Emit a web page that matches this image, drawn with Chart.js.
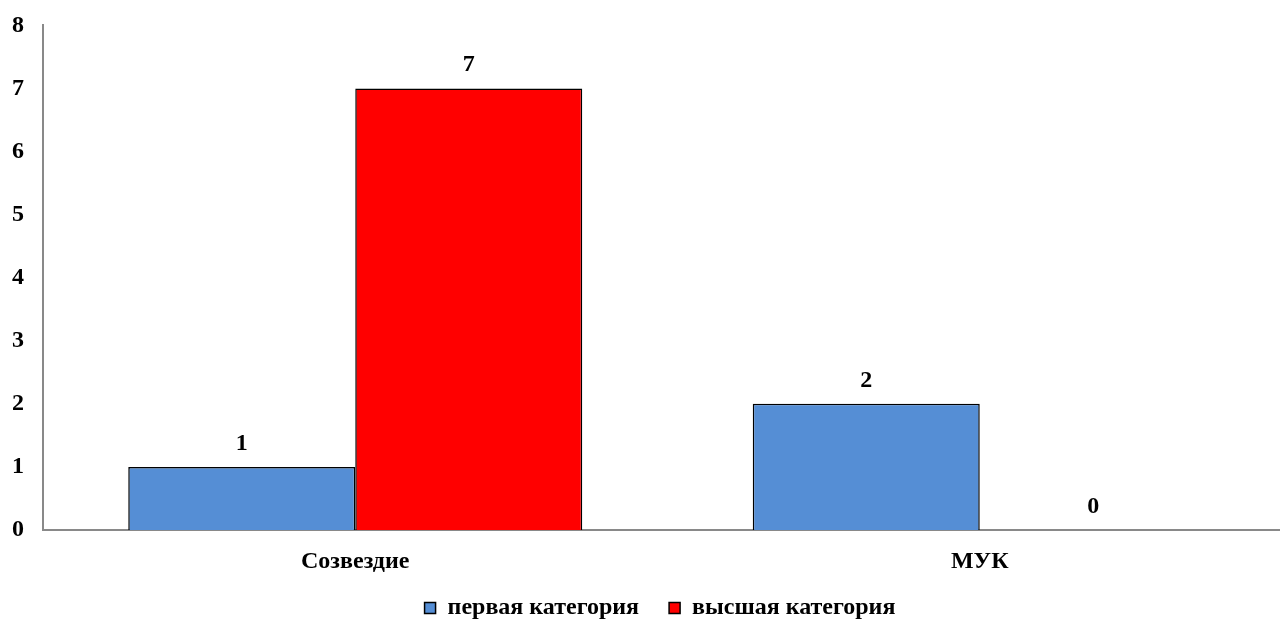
<!DOCTYPE html>
<html><head><meta charset="utf-8">
<script src="https://cdn.jsdelivr.net/npm/chart.js@4/dist/chart.umd.min.js"></script>
<style>html,body{margin:0;padding:0;background:#fff;overflow:hidden}#wrap{width:1292px;height:624px}</style>
</head><body><div id="wrap"><canvas id="c" width="1292" height="624"></canvas></div>
<script>
const categories = ["Созвездие", "МУК"];
const firstCategory = [1, 2];
const highestCategory = [7, 0];
const seriesNames = ["первая категория", "высшая категория"];
const yTicks = [0, 1, 2, 3, 4, 5, 6, 7, 8];

const FONT = "'Liberation Serif', 'Times New Roman', serif";

const valueLabels = {
  id: 'valueLabels',
  afterDatasetsDraw(chart) {
    const ctx = chart.ctx;
    ctx.save();
    ctx.font = "bold 24px " + FONT;
    ctx.fillStyle = '#000';
    ctx.textAlign = 'center';
    ctx.textBaseline = 'alphabetic';
    chart.data.datasets.forEach((ds, i) => {
      chart.getDatasetMeta(i).data.forEach((bar, j) => {
        ctx.fillText(String(ds.data[j]), bar.x, bar.y - 17);
      });
    });
    ctx.restore();
  }
};

const legendFix = {
  id: 'legendFix',
  beforeLayout(chart) {
    const lg = chart.legend;
    if (lg && !lg._fitPatched) {
      const orig = lg.fit;
      lg.fit = function () { orig.call(this); this.height = 44; };
      lg.draw = function () { if (this.options.display) this._draw(); };
      lg._fitPatched = true;
    }
  },
  afterLayout(chart) {
    const lg = chart.legend;
    if (lg) { lg.left += 14; lg.right += 14; lg.top -= 14; lg.bottom -= 14; }
  }
};

new Chart(document.getElementById('c'), {
  type: 'bar',
  data: {
    labels: categories,
    datasets: [
      { label: seriesNames[0], data: firstCategory, backgroundColor: '#558ED5', borderColor: '#000', borderWidth: 1.5, borderSkipped: 'bottom' },
      { label: seriesNames[1], data: highestCategory, backgroundColor: '#FF0000', borderColor: '#000', borderWidth: 1.5, borderSkipped: 'bottom' }
    ]
  },
  options: {
    responsive: false,
    animation: false,
    layout: { padding: { top: 4, left: 0, right: 0, bottom: 0 } },
    datasets: { bar: { categoryPercentage: 0.727, barPercentage: 1.0 } },
    plugins: {
      legend: {
        position: 'bottom',
        labels: {
          font: { family: FONT, size: 24, weight: 'bold' },
          color: '#000',
          boxWidth: 11, boxHeight: 11,
          padding: 30,
          generateLabels(chart) {
            return chart.data.datasets.map((ds, i) => ({
              text: ds.label, fillStyle: ds.backgroundColor, strokeStyle: '#000', lineWidth: 1.5, datasetIndex: i, hidden: false
            }));
          }
        }
      },
      tooltip: { enabled: false }
    },
    scales: {
      x: {
        afterFit(scale) { scale.height = 50; },
        grid: { display: false },
        border: { display: true, color: '#898989', width: 2 },
        ticks: { font: { family: FONT, size: 24, weight: 'bold' }, color: '#000', padding: 9 }
      },
      y: {
        min: 0, max: 8,
        afterBuildTicks(scale) { scale.ticks = yTicks.map(v => ({ value: v })); },
        afterFit(scale) { scale.width = 43; },
        grid: { display: false },
        border: { display: true, color: '#898989', width: 2 },
        ticks: { font: { family: FONT, size: 24, weight: 'bold' }, color: '#000', padding: 11 }
      }
    }
  },
  plugins: [valueLabels, legendFix]
});
</script></body></html>
